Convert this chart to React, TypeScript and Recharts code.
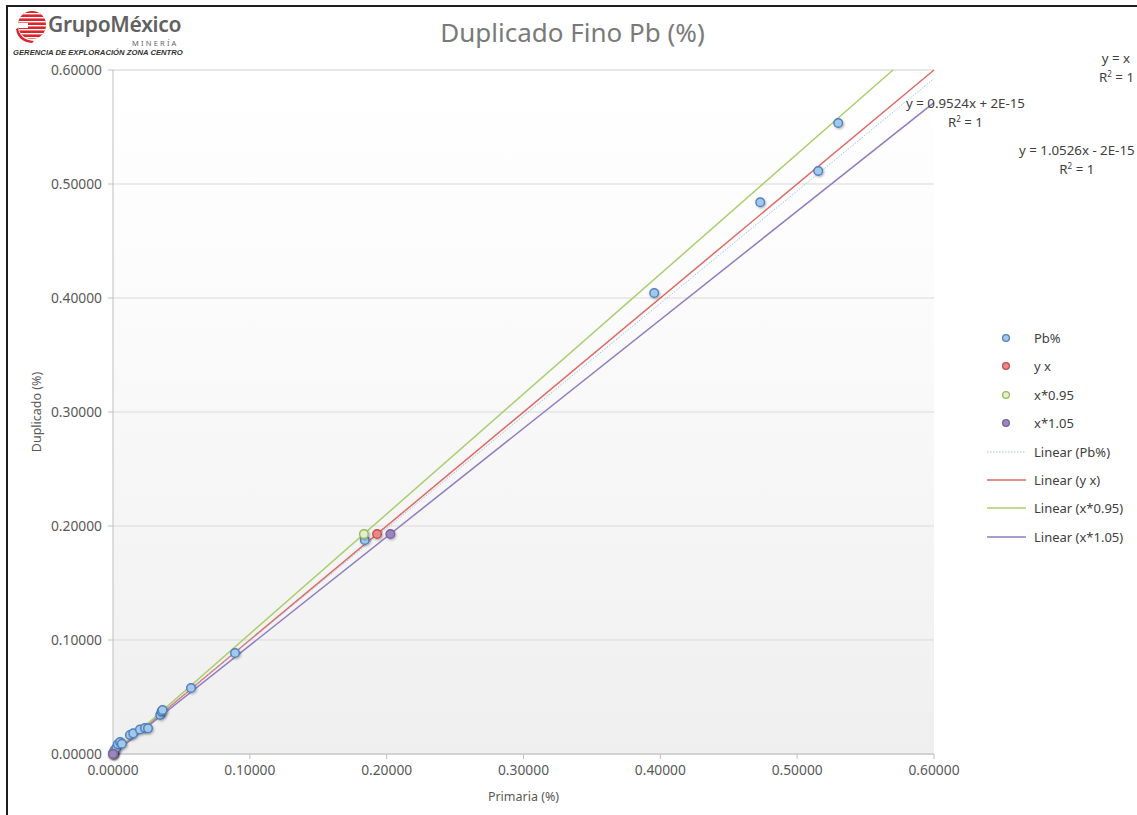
import {
  CartesianGrid,
  ComposedChart,
  Line,
  Scatter,
  XAxis,
  YAxis,
} from "recharts";

// Pb% duplicate pairs: primaria (x) vs duplicado (y)
const PB_X = [
  0.0, 0.0005, 0.0012, 0.0025, 0.0035, 0.0052, 0.0065, 0.0124, 0.0148, 0.0197, 0.0234,
  0.0256, 0.0345, 0.0355, 0.0362, 0.057, 0.0892, 0.184, 0.3955, 0.473, 0.5154, 0.53,
];
const PB_Y = [
  0.0008, 0.0015, 0.0035, 0.0055, 0.0085, 0.0105, 0.009, 0.0167, 0.0181, 0.0215, 0.0228,
  0.0225, 0.0342, 0.0372, 0.0386, 0.0579, 0.0886, 0.1877, 0.4044, 0.484, 0.5114, 0.5535,
];

// reference series (a single check point plus origin)
const YX_X = [0, 0.193];
const YX_Y = [0, 0.193];
const X095_X = [0, 0.1834];
const X095_Y = [0, 0.193];
const X105_X = [0, 0.2027];
const X105_Y = [0, 0.193];

// trendline end points
const TREND_PB = [
  [0, 0.0008],
  [0.6, 0.5925],
];
const TREND_YX = [
  [0, 0],
  [0.6, 0.6],
];
const TREND_X095 = [
  [0, 0],
  [0.57, 0.6],
];
const TREND_X105 = [
  [0, 0],
  [0.6, 0.5714],
];

const MAJOR_TICKS = [0, 0.1, 0.2, 0.3, 0.4, 0.5, 0.6];
const MINOR_TICKS = [
  0, 0.02, 0.04, 0.06, 0.08, 0.1, 0.12, 0.14, 0.16, 0.18, 0.2, 0.22, 0.24, 0.26, 0.28,
  0.3, 0.32, 0.34, 0.36, 0.38, 0.4, 0.42, 0.44, 0.46, 0.48, 0.5, 0.52, 0.54, 0.56, 0.58, 0.6,
];

const zip = (xs: number[], ys: number[]) => xs.map((x, i) => ({ x, y: ys[i] }));
const pts = (arr: number[][]) => arr.map(([x, y]) => ({ x, y }));

const pbData = zip(PB_X, PB_Y);
const yxData = zip(YX_X, YX_Y);
const x095Data = zip(X095_X, X095_Y);
const x105Data = zip(X105_X, X105_Y);

const FONT = "'Noto Sans', 'Open Sans', sans-serif";
const TICK = { fill: "#595959", fontSize: 13.8, fontFamily: FONT };

const MARKERS = {
  pb: { fill: "#a4c8ec", stroke: "#4f81bd" },
  yx: { fill: "#e88a86", stroke: "#c0504d" },
  x095: { fill: "#e4efd2", stroke: "#9bbb59" },
  x105: { fill: "#9b86bf", stroke: "#7a62a3" },
};

const dotShape = (m: { fill: string; stroke: string }) => (p: any) =>
  (
    <circle
      cx={p.cx}
      cy={p.cy}
      r={4.3}
      fill={m.fill}
      stroke={m.stroke}
      strokeWidth={1.4}
      filter="url(#shadow)"
    />
  );

const LEGEND = [
  { label: "Pb%", kind: "dot", m: MARKERS.pb },
  { label: "y x", kind: "dot", m: MARKERS.yx },
  { label: "x*0.95", kind: "dot", m: MARKERS.x095 },
  { label: "x*1.05", kind: "dot", m: MARKERS.x105 },
  { label: "Linear (Pb%)", kind: "dash", color: "#9dc3e6" },
  { label: "Linear (y x)", kind: "line", color: "#e06a66" },
  { label: "Linear (x*0.95)", kind: "line", color: "#a9cf6c" },
  { label: "Linear (x*1.05)", kind: "line", color: "#8f7cc0" },
];

function Logo() {
  return (
    <div style={{ position: "absolute", left: 12, top: 10 }}>
      <svg width={34} height={34} style={{ position: "absolute", left: 2, top: 0 }}>
        <defs>
          <clipPath id="logoClip">
            <circle cx={18} cy={15} r={14} />
          </clipPath>
        </defs>
        <g clipPath="url(#logoClip)">
          <rect x={0} y={0} width={34} height={32} fill="#d9262c" />
          {[3, 7, 11, 15, 19, 23, 27].map((y) => (
            <rect key={y} x={0} y={y} width={34} height={1.4} fill="#fff" />
          ))}
          <rect x={0} y={13} width={14} height={5} fill="#fff" />
        </g>
        <path d="M4 18 Q6 30 20 31 L18 33 Q4 32 2 19 Z" fill="#d9262c" />
      </svg>
      <div
        style={{
          position: "absolute",
          left: 36,
          top: 0,
          fontFamily: FONT,
          fontSize: 21,
          fontWeight: 600,
          color: "#616161",
          whiteSpace: "nowrap",
          letterSpacing: -0.3,
        }}
      >
        GrupoMéxico
      </div>
      <div
        style={{
          position: "absolute",
          left: 120,
          top: 28,
          fontFamily: FONT,
          fontSize: 7.5,
          color: "#666",
          letterSpacing: 2.2,
          whiteSpace: "nowrap",
        }}
      >
        MINERÍA
      </div>
      <div
        style={{
          position: "absolute",
          left: 1,
          top: 38,
          fontFamily: "'Liberation Sans', sans-serif",
          fontSize: 7.7,
          fontWeight: 700,
          fontStyle: "italic",
          color: "#333",
          whiteSpace: "nowrap",
        }}
      >
        GERENCIA DE EXPLORACIÓN ZONA CENTRO
      </div>
    </div>
  );
}

function Legend() {
  return (
    <div style={{ position: "absolute", left: 986, top: 327, fontFamily: FONT }}>
      {LEGEND.map((it, i) => (
        <div
          key={it.label}
          style={{ position: "absolute", top: i * 28.4, left: 0, height: 22, width: 160 }}
        >
          <svg width={42} height={22} style={{ position: "absolute", left: 0, top: 0 }}>
            {it.kind === "dot" && it.m ? (
              <circle cx={20} cy={11} r={3.4} fill={it.m.fill} stroke={it.m.stroke} strokeWidth={1.3} />
            ) : (
              <line
                x1={1}
                x2={40}
                y1={11}
                y2={11}
                stroke={it.color}
                strokeWidth={it.kind === "dash" ? 1 : 1.6}
                strokeDasharray={it.kind === "dash" ? "1.5 1.5" : undefined}
              />
            )}
          </svg>
          <span
            style={{
              position: "absolute",
              left: 48,
              top: 2,
              fontSize: 13,
              color: "#404040",
              whiteSpace: "nowrap",
            }}
          >
            {it.label}
          </span>
        </div>
      ))}
    </div>
  );
}

const R2 = (
  <>
    R<sup style={{ fontSize: 8, verticalAlign: "5px", lineHeight: 0 }}>2</sup> = 1
  </>
);

const EQ_STYLE = {
  position: "absolute" as const,
  fontFamily: FONT,
  fontSize: 13.3,
  color: "#404040",
  lineHeight: "19px",
  whiteSpace: "nowrap" as const,
};

export default function App() {
  return (
    <div
      style={{
        position: "absolute",
        left: 0,
        top: 0,
        width: 1137,
        height: 815,
        background: "#fff",
        overflow: "hidden",
      }}
    >
      <div
        style={{
          position: "absolute",
          left: 6,
          top: 5,
          width: 1140,
          height: 820,
          borderLeft: "2px solid #1e1e1e",
          borderTop: "2px solid #1e1e1e",
        }}
      />
      <ComposedChart
        width={1137}
        height={815}
        margin={{ top: 70, right: 203, bottom: 21, left: 33 }}
        style={{ position: "absolute", left: 0, top: 0 }}
      >
        <defs>
          <linearGradient id="plotBg" x1="0" y1="0" x2="0" y2="1">
            <stop offset="0" stopColor="#ffffff" />
            <stop offset="0.35" stopColor="#fbfbfb" />
            <stop offset="1" stopColor="#efefef" />
          </linearGradient>
          <filter id="shadow" x="-50%" y="-50%" width="200%" height="200%">
            <feDropShadow dx="1" dy="1.2" stdDeviation="0.9" floodColor="#000" floodOpacity="0.3" />
          </filter>
        </defs>
        <CartesianGrid
          yAxisId="minor"
          vertical={false}
          fill="url(#plotBg)"
          stroke="#ececec"
          strokeWidth={1}
        />
        <CartesianGrid vertical={false} stroke="#d9d9d9" strokeWidth={1} />
        <XAxis
          type="number"
          dataKey="x"
          domain={[0, 0.6]}
          ticks={MAJOR_TICKS}
          tickFormatter={(v: number) => v.toFixed(5)}
          tick={TICK}
          stroke="#bfbfbf"
          tickSize={5}
          tickMargin={6}
          height={40}
        />
        <YAxis
          type="number"
          dataKey="y"
          domain={[0, 0.6]}
          ticks={MAJOR_TICKS}
          tickFormatter={(v: number) => v.toFixed(5)}
          tick={TICK}
          stroke="#bfbfbf"
          tickSize={5}
          tickMargin={6}
          width={80}
        />
        <YAxis
          yAxisId="minor"
          type="number"
          domain={[0, 0.6]}
          ticks={MINOR_TICKS}
          hide
        />
        <Line
          data={pts(TREND_YX)}
          dataKey="y"
          stroke="#e06a66"
          strokeWidth={1.5}
          dot={false}
          isAnimationActive={false}
        />
        <Line
          data={pts(TREND_PB)}
          dataKey="y"
          stroke="#9dc3e6"
          strokeWidth={1}
          strokeDasharray="1.5 1.5"
          dot={false}
          isAnimationActive={false}
        />
        <Line
          data={pts(TREND_X095)}
          dataKey="y"
          stroke="#a9cf6c"
          strokeWidth={1.5}
          dot={false}
          isAnimationActive={false}
        />
        <Line
          data={pts(TREND_X105)}
          dataKey="y"
          stroke="#8f7cc0"
          strokeWidth={1.5}
          dot={false}
          isAnimationActive={false}
        />
        <Scatter data={pbData} shape={dotShape(MARKERS.pb)} isAnimationActive={false} />
        <Scatter data={yxData} shape={dotShape(MARKERS.yx)} isAnimationActive={false} />
        <Scatter data={x095Data} shape={dotShape(MARKERS.x095)} isAnimationActive={false} />
        <Scatter data={x105Data} shape={dotShape(MARKERS.x105)} isAnimationActive={false} />
      </ComposedChart>

      <Logo />

      <div
        style={{
          position: "absolute",
          left: 0,
          width: 1145,
          top: 14,
          textAlign: "center",
          fontFamily: FONT,
          fontSize: 26,
          color: "#7a7a7a",
        }}
      >
        Duplicado Fino Pb (%)
      </div>

      <div
        style={{
          position: "absolute",
          left: 113,
          width: 821,
          top: 788,
          textAlign: "center",
          fontFamily: FONT,
          fontSize: 12.5,
          color: "#595959",
        }}
      >
        Primaria (%)
      </div>
      <div
        style={{
          position: "absolute",
          left: 36,
          top: 412,
          transform: "translate(-50%, -50%) rotate(-90deg)",
          fontFamily: FONT,
          fontSize: 12.5,
          color: "#595959",
          whiteSpace: "nowrap",
        }}
      >
        Duplicado (%)
      </div>

      <div style={{ ...EQ_STYLE, right: 3, top: 49, textAlign: "right" }}>
        <div style={{ paddingRight: 4 }}>y = x</div>
        <div>{R2}</div>
      </div>
      <div style={{ ...EQ_STYLE, left: 906, top: 94, textAlign: "center" }}>
        <div>y = 0.9524x + 2E-15</div>
        <div>{R2}</div>
      </div>
      <div style={{ ...EQ_STYLE, left: 1019, top: 141, textAlign: "center" }}>
        <div>y = 1.0526x - 2E-15</div>
        <div>{R2}</div>
      </div>

      <Legend />
    </div>
  );
}
